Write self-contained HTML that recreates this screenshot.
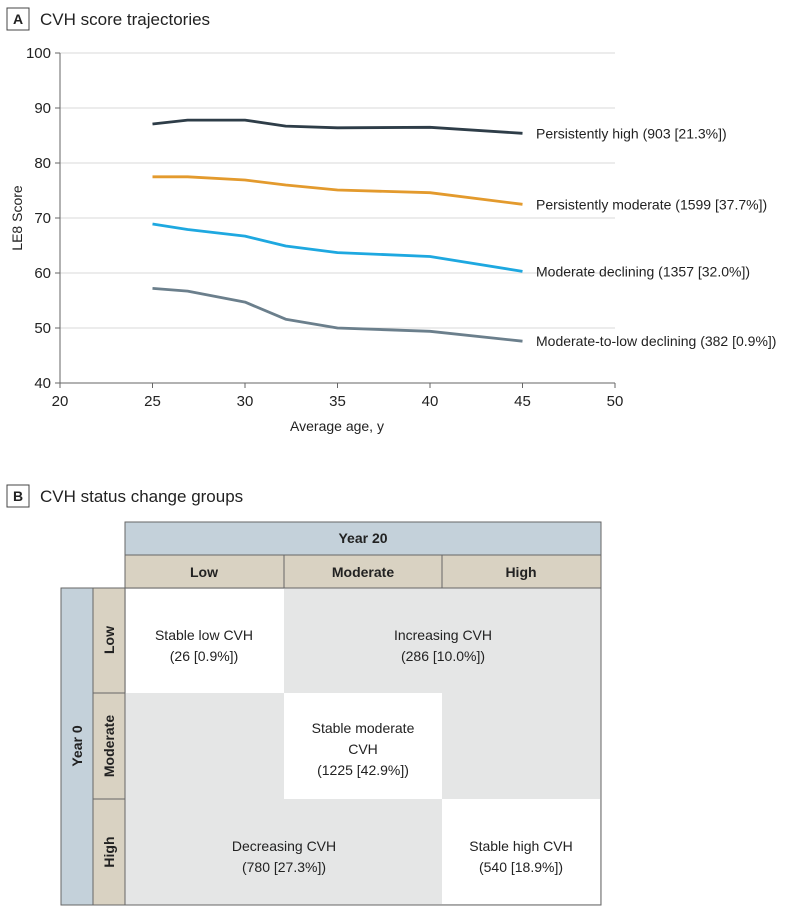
<!DOCTYPE html>
<html><head><meta charset="utf-8"><style>
body{margin:0;background:#fff;font-family:"Liberation Sans",sans-serif;}
svg text{font-family:"Liberation Sans",sans-serif;fill:#222;}
</style></head><body>
<svg width="810" height="912" viewBox="0 0 810 912" xmlns="http://www.w3.org/2000/svg">
<g>
<rect x="7" y="8" width="22" height="22" fill="#fff" stroke="#444"/>
<text x="18" y="24" font-size="14" font-weight="bold" text-anchor="middle">A</text>
<text x="40" y="25" font-size="17">CVH score trajectories</text>
</g>
<g id="chart"></g>
<text x="22" y="218" font-size="14" text-anchor="middle" transform="rotate(-90 22 218)">LE8 Score</text>
<text x="337" y="431" font-size="14" text-anchor="middle">Average age, y</text>

<g>
<rect x="7" y="485" width="22" height="22" fill="#fff" stroke="#444"/>
<text x="18" y="501" font-size="14" font-weight="bold" text-anchor="middle">B</text>
<text x="40" y="502" font-size="17">CVH status change groups</text>
</g>
<g stroke="#666" stroke-width="1">
<rect x="125" y="522" width="476" height="33" fill="#c4d1da"/>
<rect x="125" y="555" width="159" height="33" fill="#d9d2c2"/>
<rect x="284" y="555" width="158" height="33" fill="#d9d2c2"/>
<rect x="442" y="555" width="159" height="33" fill="#d9d2c2"/>
<rect x="61" y="588" width="32" height="317" fill="#c4d1da"/>
<rect x="93" y="588" width="32" height="105" fill="#d9d2c2"/>
<rect x="93" y="693" width="32" height="106" fill="#d9d2c2"/>
<rect x="93" y="799" width="32" height="106" fill="#d9d2c2"/>
<rect x="125" y="588" width="476" height="317" fill="#e5e6e6" stroke="#666"/>
<rect x="126" y="589" width="158" height="104" fill="#fff" stroke="none"/>
<rect x="284" y="693" width="158" height="106" fill="#fff" stroke="none"/>
<rect x="442" y="799" width="158" height="105" fill="#fff" stroke="none"/>
</g>
<g font-size="14">
<text x="363" y="543" text-anchor="middle" font-weight="bold">Year 20</text>
<text x="204" y="577" text-anchor="middle" font-weight="bold">Low</text>
<text x="363" y="577" text-anchor="middle" font-weight="bold">Moderate</text>
<text x="521" y="577" text-anchor="middle" font-weight="bold">High</text>
<text x="82" y="746" text-anchor="middle" font-weight="bold" transform="rotate(-90 82 746)">Year 0</text>
<text x="114" y="640" text-anchor="middle" font-weight="bold" transform="rotate(-90 114 640)">Low</text>
<text x="114" y="746" text-anchor="middle" font-weight="bold" transform="rotate(-90 114 746)">Moderate</text>
<text x="114" y="852" text-anchor="middle" font-weight="bold" transform="rotate(-90 114 852)">High</text>
<text x="204" y="640" text-anchor="middle">Stable low CVH</text>
<text x="204" y="661" text-anchor="middle">(26 [0.9%])</text>
<text x="443" y="640" text-anchor="middle">Increasing CVH</text>
<text x="443" y="661" text-anchor="middle">(286 [10.0%])</text>
<text x="363" y="733" text-anchor="middle">Stable moderate</text>
<text x="363" y="754" text-anchor="middle">CVH</text>
<text x="363" y="775" text-anchor="middle">(1225 [42.9%])</text>
<text x="284" y="851" text-anchor="middle">Decreasing CVH</text>
<text x="284" y="872" text-anchor="middle">(780 [27.3%])</text>
<text x="521" y="851" text-anchor="middle">Stable high CVH</text>
<text x="521" y="872" text-anchor="middle">(540 [18.9%])</text>
</g>
</svg>
<script>
const ages = [25, 26.9, 30, 32.2, 35, 40, 45];
const seriesNames = ["Persistently high (903 [21.3%])","Persistently moderate (1599 [37.7%])","Moderate declining (1357 [32.0%])","Moderate-to-low declining (382 [0.9%])"];
const highVals = [87.1, 87.8, 87.8, 86.7, 86.4, 86.5, 85.4];
const modVals = [77.5, 77.5, 76.9, 76.0, 75.1, 74.6, 72.5];
const declVals = [68.9, 67.9, 66.7, 64.9, 63.7, 63.0, 60.3];
const lowVals = [57.2, 56.7, 54.7, 51.6, 50.0, 49.4, 47.6];
const xTicks = [20,25,30,35,40,45,50];
const yTicks = [40,50,60,70,80,90,100];
const colors = ["#2e3d48","#e39a2d","#1ea8e0","#6b7f8c"];
const X = v => 60 + (v-20)/30*555;
const Y = v => 383 - (v-40)/60*330;
const NS="http://www.w3.org/2000/svg";
const g=document.getElementById('chart');
function mk(t,a){const e=document.createElementNS(NS,t);for(const k in a)e.setAttribute(k,a[k]);g.appendChild(e);return e;}
yTicks.forEach(v=>{
 if(v>40){const l=mk('line',{x1:60,x2:615,y1:Y(v),y2:Y(v),stroke:'#d8d8d8','stroke-width':1});
 
 }
 const tk=mk('line',{x1:55,x2:60,y1:Y(v),y2:Y(v),stroke:'#666'});
 
 
 const t=mk('text',{x:51,y:Y(v)+5,'font-size':15,'text-anchor':'end'});t.textContent=v;
 
 
});
xTicks.forEach(v=>{
 const tk=mk('line',{x1:X(v),x2:X(v),y1:383,y2:388,stroke:'#666'});
 
 
 const t=mk('text',{x:X(v),y:406,'font-size':15,'text-anchor':'middle'});t.textContent=v;
 
 
});
const ax=mk('path',{d:`M60 ${Y(100)} V383 H615`,fill:'none',stroke:'#666'});


[highVals,modVals,declVals,lowVals].forEach((vals,i)=>{
 const d=vals.map((v,j)=>(j?'L':'M')+X(ages[j]).toFixed(1)+' '+Y(v).toFixed(1)).join(' ');
 const p=mk('path',{d:d,fill:'none',stroke:colors[i],'stroke-width':2.8,'stroke-linejoin':'round'});
 
 
 const t=mk('text',{x:536,y:Y(vals[vals.length-1])+5,'font-size':14});t.textContent=seriesNames[i];
 
 
});
</script>
</body></html>
